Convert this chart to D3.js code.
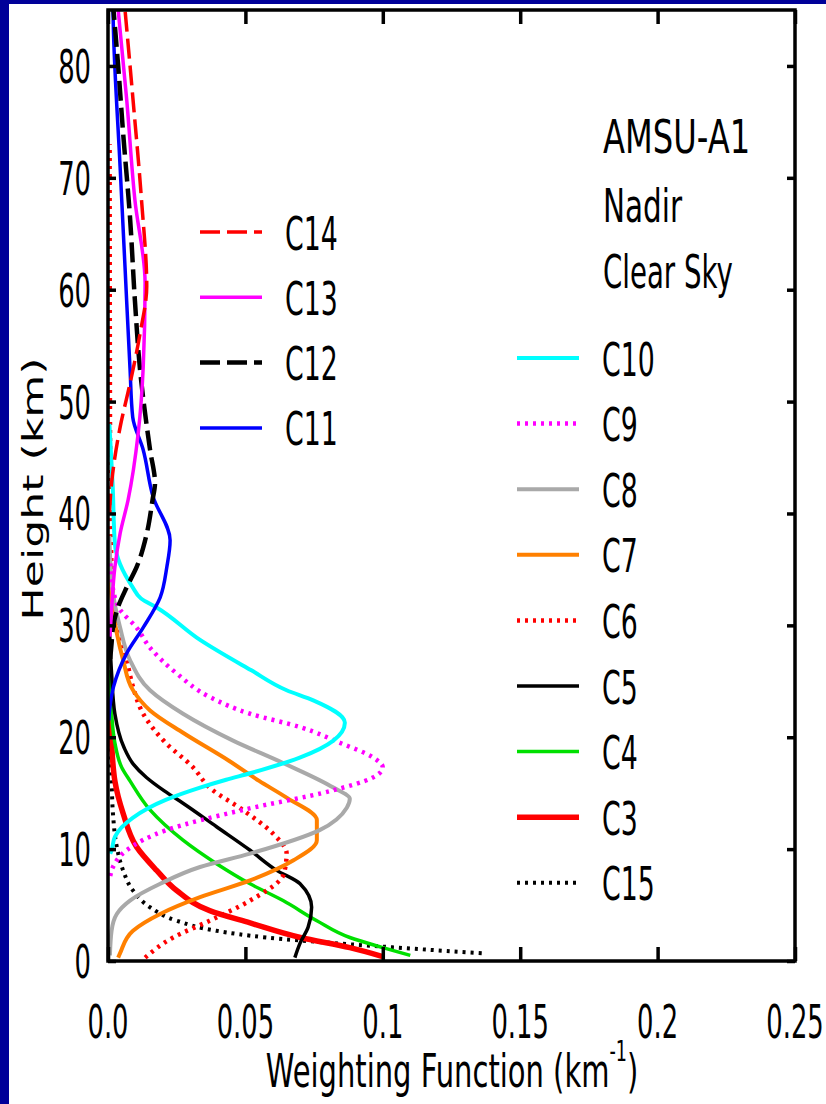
<!DOCTYPE html>
<html>
<head>
<meta charset="utf-8">
<script src="https://cdn.jsdelivr.net/npm/d3@7"></script>
<style>
  html, body { margin: 0; padding: 0; overflow: hidden; background: #000099; }
  svg { display: block; }
  text { font-family: "DejaVu Sans", Verdana, sans-serif; fill: #000; }
</style>
</head>
<body>
<div id="chart"></div>
<script>
// ---------------- DATA (height km, weighting function km^-1) ----------------
const C3  = [[0.4,0.100],[1.2,0.088],[2.1,0.070],[3.4,0.0517],[4.5,0.037],[6.3,0.025],[8.1,0.0177],[10.2,0.0104],[13.2,0.0055],[16.1,0.0025],[20,0.0012],[25,0.0005]];
const C4  = [[0.5,0.110],[1.2,0.100],[2.1,0.088],[3.6,0.076],[5.4,0.0637],[6.9,0.0517],[8.7,0.0395],[10.8,0.0273],[13.5,0.0153],[16.1,0.008],[17.3,0.0050],[19.5,0.0025],[22.1,0.0013],[26,0.0004]];
const C5  = [[0.3,0.068],[1.6,0.0699],[3.0,0.0728],[4.8,0.0741],[6.9,0.0699],[8.1,0.0614],[9.9,0.0517],[12,0.0395],[14.1,0.0273],[15.2,0.0205],[16.4,0.0140],[17.6,0.0092],[19.1,0.0058],[22.1,0.0025],[25.7,0.0013],[30,0.0005]];
const C6  = [[0.3,0.0135],[2.1,0.0237],[3.6,0.037],[5.4,0.0517],[7.8,0.064],[9.6,0.065],[11.4,0.060],[13.5,0.049],[15.5,0.037],[17.3,0.031],[19.5,0.021],[22.1,0.0128],[24.5,0.0091],[26.9,0.0068],[29.3,0.0044],[32,0.002],[36,0.0012],[50,0.0007],[73,0.0006]];
const C7  = [[0.3,0.0037],[0.7,0.0044],[2.7,0.0091],[4.2,0.019],[5.7,0.0335],[7.2,0.0517],[9,0.0675],[10.8,0.076],[12.6,0.076],[14.6,0.065],[16.1,0.055],[17.9,0.044],[20.4,0.0273],[22.4,0.0153],[24.2,0.0091],[26.9,0.0055],[29.3,0.0032],[32,0.0015],[36,0.0005]];
const C8  = [[0.5,0.0007],[2.7,0.0013],[4.2,0.0032],[5.4,0.008],[6.9,0.019],[8.4,0.0335],[9.6,0.0517],[11.7,0.077],[13.7,0.0869],[14.5,0.088],[15.5,0.082],[17.7,0.0637],[19.7,0.0455],[22.1,0.0273],[24.2,0.0153],[26.9,0.008],[29.8,0.0044],[33.4,0.0015],[38,0.0005]];
const C9  = [[7.6,0.0008],[8.4,0.0018],[9.9,0.0068],[11.7,0.0213],[13.5,0.049],[15.2,0.081],[16.4,0.0964],[17.3,0.100],[18.2,0.0964],[19.5,0.0844],[20.9,0.070],[22.1,0.0517],[23.6,0.037],[25.7,0.025],[28,0.0153],[29.8,0.0104],[31.4,0.0044],[33,0.002],[36,0.0008]];
const C10 = [[9.6,0.0008],[9.9,0.0013],[11.1,0.0025],[12.8,0.009],[14.4,0.021],[15.5,0.0335],[16.2,0.043],[16.8,0.052],[18.2,0.070],[19.7,0.082],[21.3,0.0862],[23.3,0.0747],[24.2,0.065],[26,0.052],[28.7,0.0335],[31.6,0.0177],[32.4,0.012],[33.4,0.009],[37.3,0.0025],[42.5,0.0017],[48,0.0005]];
const C11 = [[21.5,0.0003],[22.7,0.0007],[24.5,0.002],[27.5,0.0068],[29.8,0.0128],[32.5,0.019],[35.2,0.0214],[37.6,0.0226],[41.5,0.0164],[45.7,0.0128],[48.6,0.009],[53,0.008],[62,0.0062],[71,0.0044],[83,0.002],[85,0.0018]];
const C12 = [[27,0.0008],[28.4,0.0013],[29.8,0.0018],[31.6,0.0036],[33.4,0.0068],[35.2,0.0104],[38.2,0.0141],[41.2,0.0162],[42.7,0.0171],[45.7,0.0153],[53,0.0116],[59,0.0098],[66.5,0.008],[74,0.0055],[80,0.0037],[85,0.002]];
const C13 = [[29,0.0007],[31.4,0.0013],[35.2,0.0025],[38.2,0.0044],[41.2,0.0073],[47.2,0.011],[53,0.0128],[60.6,0.0135],[68,0.0098],[77,0.0068],[85,0.0037]];
const C14 = [[40,0.0005],[42.7,0.0013],[47.7,0.0044],[51.6,0.008],[56,0.0116],[60.3,0.0141],[68,0.0122],[77,0.0091],[85,0.0062]];
const C15 = [[0.7,0.136],[0.9,0.123],[1.15,0.108],[1.6,0.082],[2.1,0.0577],[2.7,0.0395],[3.6,0.025],[4.8,0.0153],[6.3,0.0091],[8.1,0.0055],[10.2,0.0032],[13.2,0.0018],[16.1,0.0013],[22,0.0005]];

const leftLegend  = ["C14", "C13", "C12", "C11"];
const rightLegend = ["C10", "C9", "C8", "C7", "C6", "C5", "C4", "C3", "C15"];
const annotation  = ["AMSU-A1", "Nadir", "Clear Sky"];

const xTicks = [0, 0.05, 0.1, 0.15, 0.2, 0.25];
const xTickLabels = ["0.0", "0.05", "0.1", "0.15", "0.2", "0.25"];
const yTicks = [0, 10, 20, 30, 40, 50, 60, 70, 80];
const yTickLabels = ["0", "10", "20", "30", "40", "50", "60", "70", "80"];

// ---------------- STYLES ----------------
const series = { C3, C4, C5, C6, C7, C8, C9, C10, C11, C12, C13, C14, C15 };
const styles = {
  C14: { color: "#ff0000", w: 3.5, dash: "20,7" },
  C13: { color: "#ff00ff", w: 3.5 },
  C12: { color: "#000000", w: 4.5, dash: "20,7" },
  C11: { color: "#0000ff", w: 3.5 },
  C10: { color: "#00ffff", w: 4 },
  C9:  { color: "#ff00ff", w: 4.5, dash: "3,5" },
  C8:  { color: "#a9a9a9", w: 4 },
  C7:  { color: "#ff8000", w: 4 },
  C6:  { color: "#ff0000", w: 4.5, dash: "3,5" },
  C5:  { color: "#000000", w: 3.5 },
  C4:  { color: "#00e000", w: 3.5 },
  C3:  { color: "#ff0000", w: 5.5 },
  C15: { color: "#000000", w: 4, dash: "3,5" }
};
const drawOrder = ["C15", "C3", "C4", "C5", "C6", "C7", "C8", "C9", "C10", "C11", "C12", "C13", "C14"];

// ---------------- LAYOUT ----------------
const W = 826, H = 1104;
const svg = d3.select("#chart").append("svg").attr("width", W).attr("height", H);
svg.append("rect").attr("width", W).attr("height", H).attr("fill", "#000099");
svg.append("rect").attr("x", 9).attr("y", 4).attr("width", W - 9).attr("height", H - 4).attr("fill", "#ffffff");

const x = d3.scaleLinear().domain([0, 0.25]).range([108, 795]);
const y = d3.scaleLinear().domain([0, 85]).range([961, 10]);

svg.append("clipPath").attr("id", "plotclip").append("rect")
  .attr("x", x(0)).attr("y", y(85)).attr("width", x(0.25) - x(0)).attr("height", y(0) - y(85));

const line = d3.line().x(d => x(d[1])).y(d => y(d[0])).curve(d3.curveMonotoneY);

const curves = svg.append("g").attr("clip-path", "url(#plotclip)");
drawOrder.forEach(k => {
  const s = styles[k];
  curves.append("path").datum(series[k])
    .attr("d", line)
    .attr("fill", "none")
    .attr("stroke", s.color)
    .attr("stroke-width", s.w)
    .attr("stroke-dasharray", s.dash || null)
    .attr("stroke-linejoin", "round");
});

// axes (inward ticks on all four sides)
function styleAxis(g) {
  g.select(".domain").remove();
  g.selectAll(".tick line").attr("stroke", "#000").attr("stroke-width", 3.5);
  g.selectAll(".tick text").remove();
}
svg.append("g").attr("transform", `translate(0,${y(0)})`)
  .call(d3.axisBottom(x).tickValues(xTicks).tickSize(-14).tickFormat("")).call(styleAxis);
svg.append("g").attr("transform", `translate(0,${y(85)})`)
  .call(d3.axisTop(x).tickValues(xTicks).tickSize(-14).tickFormat("")).call(styleAxis);
svg.append("g").attr("transform", `translate(${x(0)},0)`)
  .call(d3.axisLeft(y).tickValues(yTicks).tickSize(-8).tickFormat("")).call(styleAxis);
svg.append("g").attr("transform", `translate(${x(0.25)},0)`)
  .call(d3.axisRight(y).tickValues(yTicks).tickSize(-8).tickFormat("")).call(styleAxis);

svg.append("rect")
  .attr("x", x(0)).attr("y", y(85)).attr("width", x(0.25) - x(0)).attr("height", y(0) - y(85))
  .attr("fill", "none").attr("stroke", "#000").attr("stroke-width", 3.5);

// text helper (glyphs condensed horizontally like the reference)
function txt(px, py, str, size, sx, anchor) {
  return svg.append("text")
    .attr("transform", `translate(${px},${py}) scale(${sx},1)`)
    .attr("font-size", size)
    .attr("text-anchor", anchor || "start")
    .text(str);
}

// tick labels
xTicks.forEach((v, i) => txt(x(v), 1038, xTickLabels[i], 47, 0.55, "middle"));
yTicks.forEach((v, i) => txt(91, y(v) + 17, yTickLabels[i], 47, 0.55, "end"));

// axis titles
const xt = svg.append("text")
  .attr("transform", `translate(452,1087) scale(0.63,1)`)
  .attr("font-size", 46).attr("text-anchor", "middle");
xt.append("tspan").text("Weighting Function (km");
xt.append("tspan").attr("font-size", 28).attr("dy", -26).text("-1");
xt.append("tspan").attr("dy", 26).text(")");

svg.append("text")
  .attr("transform", `translate(43,489) rotate(-90) scale(0.96,0.63)`)
  .attr("font-size", 46).attr("text-anchor", "middle")
  .text("Height (km)");

// annotation
const annY = [153, 222, 288];
annotation.forEach((t, i) => txt(603, annY[i], t, 46, [0.70, 0.64, 0.60][i], "start"));

// legends
function legendRow(k, lx, ly, tx) {
  const s = styles[k];
  svg.append("line")
    .attr("x1", lx).attr("x2", lx + 62).attr("y1", ly).attr("y2", ly)
    .attr("stroke", s.color).attr("stroke-width", s.w)
    .attr("stroke-dasharray", s.dash || null);
  txt(tx, ly + 17.5, k, 47, 0.57, "start");
}
leftLegend.forEach((k, i) => legendRow(k, 200, 232 + i * 65.3, 285));
rightLegend.forEach((k, i) => legendRow(k, 517, 358 + i * 65.6, 602));
</script>
</body>
</html>
